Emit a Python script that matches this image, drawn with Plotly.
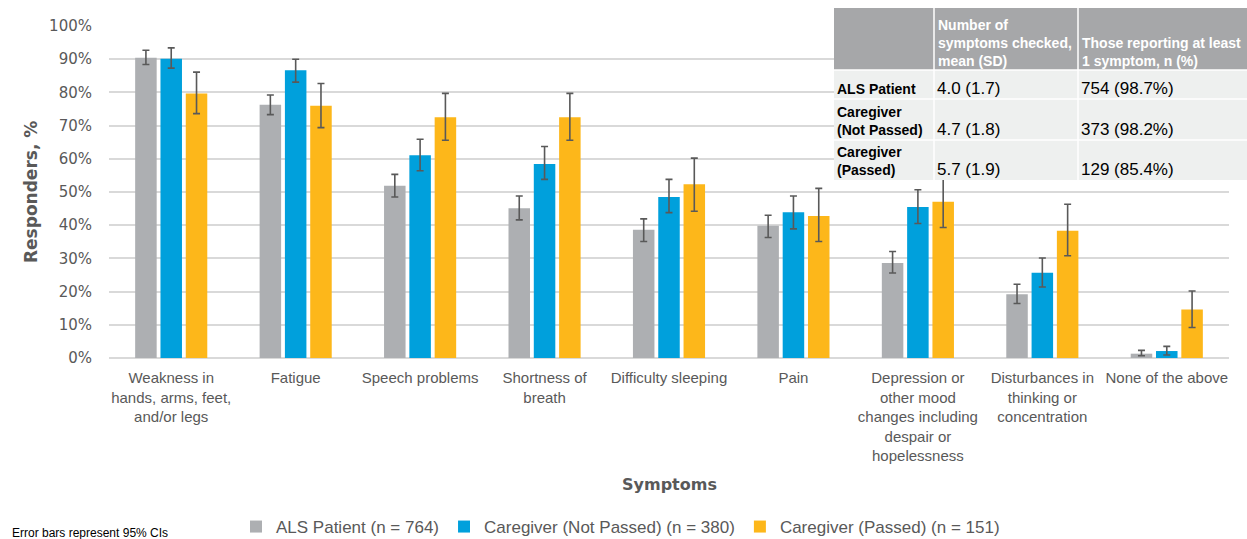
import numpy as np
import plotly.graph_objects as go

# ---- data -------------------------------------------------------------
categories = [
    "Weakness in<br>hands, arms, feet,<br>and/or legs",
    "Fatigue",
    "Speech problems",
    "Shortness of<br>breath",
    "Difficulty sleeping",
    "Pain",
    "Depression or<br>other mood<br>changes including<br>despair or<br>hopelessness",
    "Disturbances in<br>thinking or<br>concentration",
    "None of the above",
]

series_names = ["ALS Patient (n = 764)", "Caregiver (Not Passed) (n = 380)", "Caregiver (Passed) (n = 151)"]

als_pct = [90.4, 76.3, 51.9, 45.1, 38.6, 39.8, 28.6, 19.2, 1.3]
als_hi = [92.7, 79.2, 55.3, 48.8, 41.9, 43.0, 32.1, 22.2, 2.3]
als_lo = [88.4, 73.3, 48.5, 41.6, 35.1, 36.3, 25.6, 16.4, 0.7]

notpassed_pct = [90.1, 86.7, 61.1, 58.4, 48.5, 43.9, 45.5, 25.7, 2.1]
notpassed_hi = [93.4, 90.0, 65.9, 63.7, 53.8, 48.8, 50.7, 30.1, 3.5]
notpassed_lo = [87.3, 83.1, 56.4, 53.8, 43.8, 38.9, 40.5, 21.4, 0.9]

passed_pct = [79.7, 76.0, 72.5, 72.5, 52.3, 42.8, 47.1, 38.3, 14.6]
passed_hi = [86.1, 82.7, 79.7, 79.7, 60.2, 51.1, 54.9, 46.3, 20.2]
passed_lo = [73.6, 69.4, 65.6, 65.6, 44.2, 35.1, 39.3, 30.8, 9.2]

# summary table
table_header = ["", "Number of<br>symptoms checked,<br>mean (SD)", "Those reporting at least<br>1 symptom, n (%)"]
table_groups = ["ALS Patient", "Caregiver<br>(Not Passed)", "Caregiver<br>(Passed)"]
table_mean_sd = ["4.0 (1.7)", "4.7 (1.8)", "5.7 (1.9)"]
table_any = ["754 (98.7%)", "373 (98.2%)", "129 (85.4%)"]

colors = ["#ADAFB2", "#00A0DC", "#FDB71A"]

# ---- layout geometry (pixels) -----------------------------------------
W, H = 1247, 539
L, R, T, B = 109, 1229, 26, 358
PW, PH = R - L, B - T


def px(x):
    return (x - L) / PW


def py(y):
    return (B - y) / PH


TEXT = "#595959"
NARROW = "Liberation Sans Narrow, Arial Narrow, Liberation Sans, sans-serif"

fig = go.Figure()
for name, vals, hi, lo, c in [
    (series_names[0], als_pct, als_hi, als_lo, colors[0]),
    (series_names[1], notpassed_pct, notpassed_hi, notpassed_lo, colors[1]),
    (series_names[2], passed_pct, passed_hi, passed_lo, colors[2]),
]:
    v = np.array(vals)
    fig.add_trace(go.Bar(
        name=name, x=categories, y=v, marker=dict(color=c, line=dict(width=0)),
        error_y=dict(type="data", symmetric=False,
                     array=np.array(hi) - v, arrayminus=v - np.array(lo),
                     color="#595959", thickness=1.6, width=3.5),
    ))

shapes = []
annotations = []

# table backgrounds
tx0, tc1, tc2, tx1 = 834, 934, 1078, 1247
ty0, th1, r1, r2, ty1 = 8, 70, 99, 140, 180
shapes.append(dict(type="rect", xref="paper", yref="paper", x0=px(tx0), x1=px(tx1), y0=py(th1), y1=py(ty0),
                   fillcolor="#A6A7A9", line=dict(width=0), layer="above"))
shapes.append(dict(type="rect", xref="paper", yref="paper", x0=px(tx0), x1=px(tx1), y0=py(ty1), y1=py(th1),
                   fillcolor="#EEF0EF", line=dict(width=0), layer="above"))
for xx in (tc1, tc2):
    shapes.append(dict(type="line", xref="paper", yref="paper", x0=px(xx), x1=px(xx), y0=py(ty1), y1=py(ty0),
                       line=dict(color="white", width=1.5), layer="above"))
for yy in (th1, r1, r2):
    shapes.append(dict(type="line", xref="paper", yref="paper", x0=px(tx0), x1=px(tx1), y0=py(yy), y1=py(yy),
                       line=dict(color="white", width=1.5), layer="above"))

TFONT = "Liberation Sans, Arial, sans-serif"
# header text
for xcol, txt in ((tc1, table_header[1]), (tc2, table_header[2])):
    annotations.append(dict(x=px(xcol + 2), y=py(th1 + 1), xref="paper", yref="paper", xanchor="left",
                            yanchor="bottom", text="<b>" + txt + "</b>", showarrow=False, align="left",
                            font=dict(family=TFONT, size=14, color="white")))
row_bottoms = [r1, r2, ty1]
for grp, m, a, rb in zip(table_groups, table_mean_sd, table_any, row_bottoms):
    annotations.append(dict(x=px(tx0 + 1), y=py(rb), xref="paper", yref="paper", xanchor="left",
                            yanchor="bottom", text="<b>" + grp + "</b>", showarrow=False, align="left",
                            font=dict(family=TFONT, size=14, color="black")))
    annotations.append(dict(x=px(tc1 + 1), y=py(rb + 1), xref="paper", yref="paper", xanchor="left",
                            yanchor="bottom", text=m, showarrow=False, align="left",
                            font=dict(family=TFONT, size=17, color="black")))
    annotations.append(dict(x=px(tc2 + 1), y=py(rb + 1), xref="paper", yref="paper", xanchor="left",
                            yanchor="bottom", text=a, showarrow=False, align="left",
                            font=dict(family=TFONT, size=17, color="black")))

# axis titles and footnote
annotations.append(dict(x=px(31), y=py(192), xref="paper", yref="paper", xanchor="center", yanchor="middle",
                        text="<b>Responders, %</b>", textangle=-90, showarrow=False,
                        font=dict(family="DejaVu Sans", size=17, color=TEXT)))
annotations.append(dict(x=px(669), y=py(485), xref="paper", yref="paper", xanchor="center", yanchor="middle",
                        text="<b>Symptoms</b>", showarrow=False,
                        font=dict(family="DejaVu Sans", size=16, color=TEXT)))
annotations.append(dict(x=px(10), y=py(533), xref="paper", yref="paper", xanchor="left", yanchor="middle",
                        text="Error bars represent 95% CIs",
                        showarrow=False, font=dict(family=NARROW, size=12, color="black")))

fig.update_layout(
    width=W, height=H,
    margin=dict(l=L, r=W - R, t=T, b=H - B, autoexpand=False),
    paper_bgcolor="white", plot_bgcolor="white",
    barmode="group", bargap=0.39, bargroupgap=0.15,
    showlegend=True,
    legend=dict(orientation="h", x=px(236), y=py(527), xanchor="left", yanchor="middle",
                font=dict(family=NARROW, size=17, color=TEXT), itemsizing="constant",
                traceorder="normal", itemwidth=30),
    xaxis=dict(showgrid=False, showline=False, ticks="", ticklabelstandoff=9,
               tickfont=dict(family=NARROW, size=15, color=TEXT), tickangle=0),
    yaxis=dict(range=[0, 100], dtick=10, ticksuffix="%", showgrid=True, gridcolor="#D9D9D9", gridwidth=1.5,
               zeroline=True, zerolinecolor="#D9D9D9", zerolinewidth=1.5, showline=False, ticks="",
               ticklabelstandoff=16, tickfont=dict(family="DejaVu Sans", size=15, color=TEXT)),
    shapes=shapes, annotations=annotations,
)

fig.write_html("out.html")
